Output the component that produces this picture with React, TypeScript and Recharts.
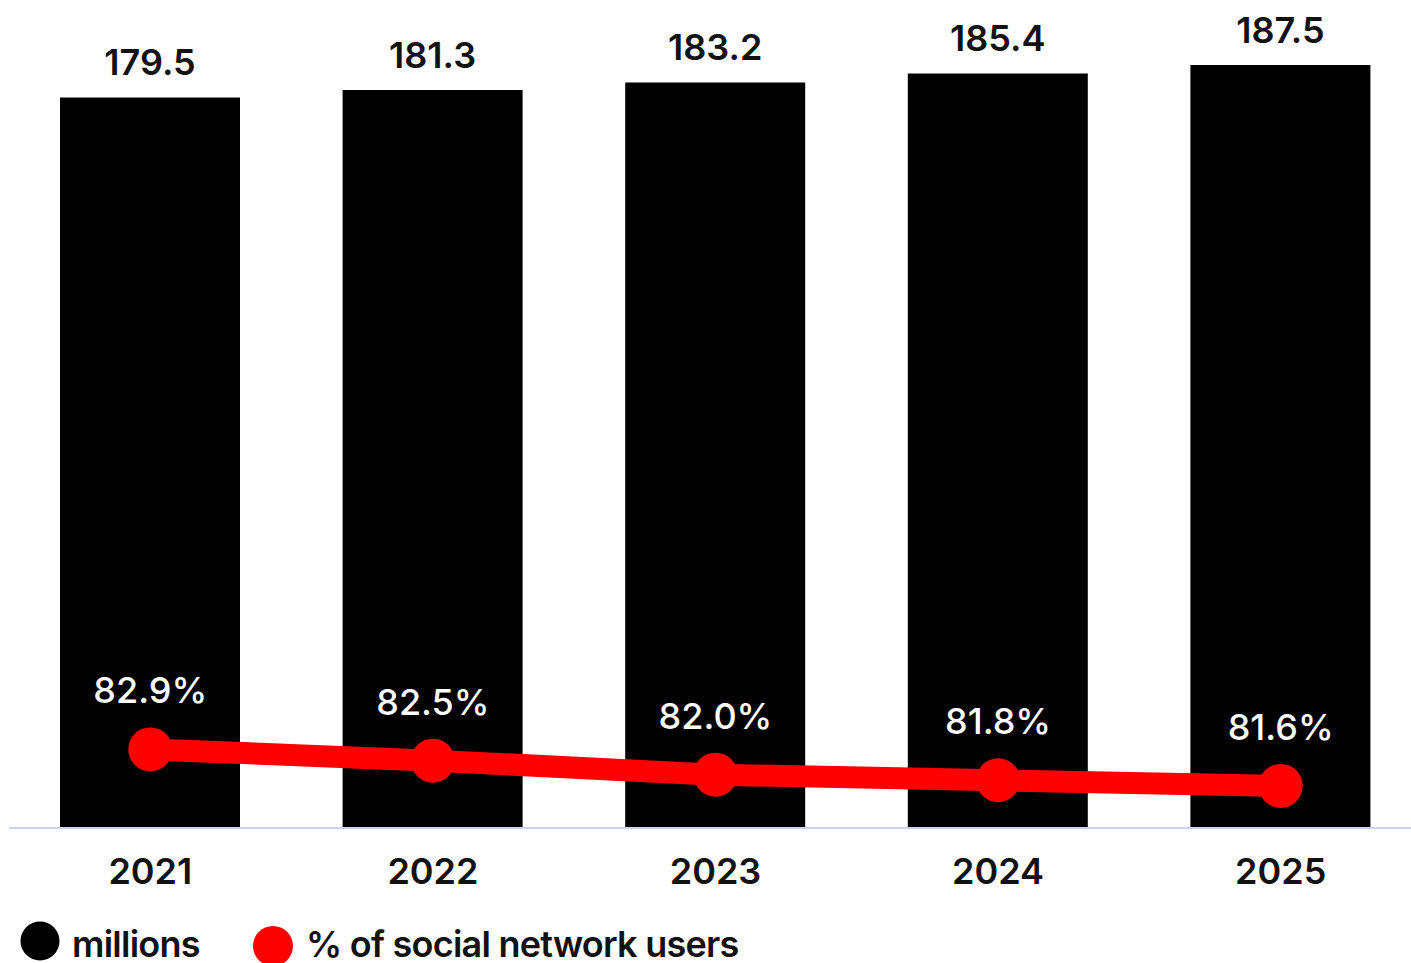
import { ComposedChart, Bar, Line, XAxis, YAxis, LabelList } from 'recharts';

// values
const years = ['2021', '2022', '2023', '2024', '2025'];
const millions = [179.5, 181.3, 183.2, 185.4, 187.5];
const sharePct = [82.9, 82.5, 82.0, 81.8, 81.6];
const legendLabels = ['millions', '% of social network users'];

const data = years.map((year, i) => ({
  year,
  millions: millions[i],
  share: sharePct[i],
}));

const FONT = 'Inter, "Noto Sans", sans-serif';
const RED = '#ff0000';

export default function App() {
  return (
    <div
      style={{
        position: 'fixed',
        top: 0,
        left: 0,
        width: 1411,
        height: 963,
        overflow: 'hidden',
        background: '#fff',
        fontFamily: FONT,
      }}
    >
      <ComposedChart
        width={1422}
        height={963}
        data={data}
        margin={{ top: 14, right: 0, left: 9, bottom: 75 }}
      >
        <XAxis
          dataKey="year"
          height={60}
          tickLine={false}
          tickSize={0}
          tickMargin={30}
          axisLine={{ stroke: '#c9d5ea', strokeWidth: 2 }}
          tick={{ fontSize: 36, fontWeight: 600, fill: '#111', fontFamily: FONT }}
        />
        <YAxis yAxisId="m" domain={[0, 200]} hide />
        <YAxis yAxisId="p" orientation="right" domain={[80.1, 109.1]} hide />
        <Bar yAxisId="m" dataKey="millions" barSize={180} fill="#000" isAnimationActive={false}>
          <LabelList
            dataKey="millions"
            position="top"
            offset={22}
            formatter={(v: number) => v.toFixed(1)}
            style={{ fontSize: 36, fontWeight: 600, fill: '#111', fontFamily: FONT }}
          />
        </Bar>
        <Line
          yAxisId="p"
          type="linear"
          dataKey="share"
          stroke={RED}
          strokeWidth={22}
          dot={{ r: 22, fill: RED, stroke: 'none' }}
          activeDot={false}
          isAnimationActive={false}
        >
          <LabelList
            dataKey="share"
            position="top"
            offset={46}
            formatter={(v: number) => v.toFixed(1) + '%'}
            style={{ fontSize: 36, fontWeight: 500, fill: '#fff', fontFamily: FONT }}
          />
        </Line>
      </ComposedChart>

      {/* legend drawn below the plot */}
      <svg width={1411} height={963} style={{ position: 'absolute', top: 0, left: 0, pointerEvents: 'none' }}>
        <circle cx={40} cy={941} r={19.5} fill="#000" />
        <text x={72} y={957} fontSize={36} fontWeight={600} letterSpacing={-0.75} fill="#111" fontFamily={FONT}>
          {legendLabels[0]}
        </text>
        <circle cx={273} cy={946} r={20} fill={RED} />
        <text x={306} y={957} fontSize={36} fontWeight={600} letterSpacing={-0.75} fill="#111" fontFamily={FONT}>
          {legendLabels[1]}
        </text>
      </svg>
    </div>
  );
}
